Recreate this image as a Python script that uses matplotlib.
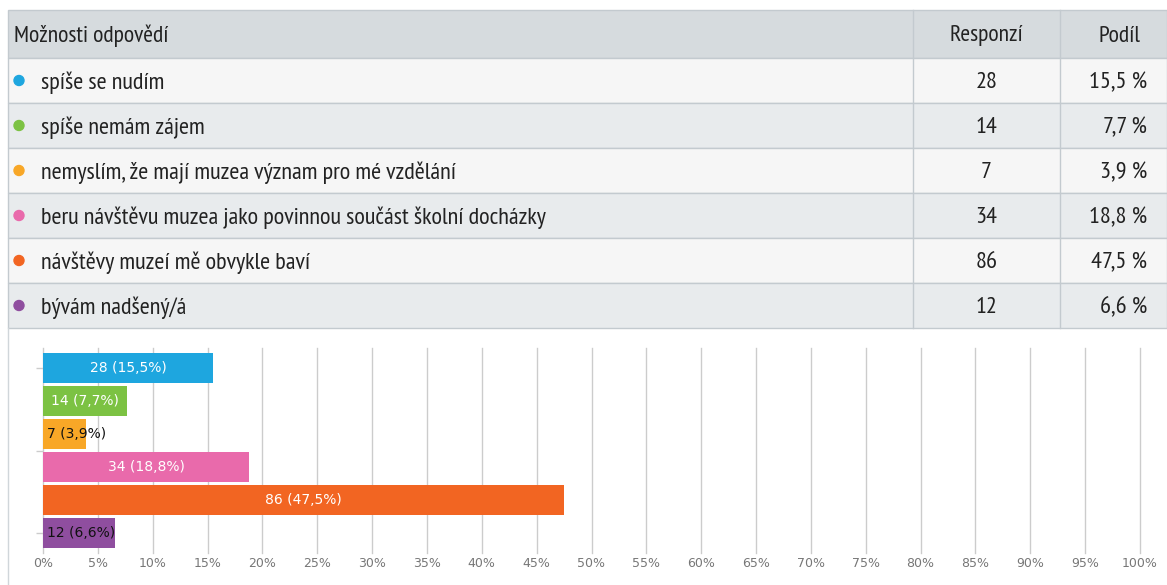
import matplotlib
matplotlib.use("Agg")
import matplotlib.pyplot as plt
from matplotlib.patches import Rectangle, Circle

# data
options = [
    "spíše se nudím",
    "spíše nemám zájem",
    "nemyslím, že mají muzea význam pro mé vzdělání",
    "beru návštěvu muzea jako povinnou součást školní docházky",
    "návštěvy muzeí mě obvykle baví",
    "bývám nadšený/á",
]
counts = [28, 14, 7, 34, 86, 12]
shares = [15.5, 7.7, 3.9, 18.8, 47.5, 6.6]
colors = ["#1ea6df", "#7cc243", "#f8a727", "#e96aab", "#f26522", "#8f4e9f"]
x_ticks = list(range(0, 101, 5))

W, H = 1167, 585
TABLE_FONT = ["PT Sans Narrow", "DejaVu Sans"]
FS = 17.5

fig = plt.figure(figsize=(W / 100, H / 100), dpi=100)
fig.patch.set_facecolor("white")

# table drawn in pixel coordinates
bg = fig.add_axes([0, 0, 1, 1])
bg.set_xlim(0, W)
bg.set_ylim(H, 0)
bg.axis("off")

border = "#c3cacf"
left, right = 8, W
col1, col2 = 913, 1060
top, head_h, row_h = 10, 48, 45
dy = 2  # nudge text down a little

bg.add_patch(Rectangle((left, top), right - left, head_h, facecolor="#d6dbde",
                       edgecolor=border, lw=1))
hy = top + head_h / 2 + dy
bg.text(14, hy, "Možnosti odpovědí", family=TABLE_FONT, fontsize=17,
        va="center", ha="left", color="#222222")
bg.text((col1 + col2) / 2, hy, "Responzí", family=TABLE_FONT, fontsize=17,
        va="center", ha="center", color="#222222")
bg.text(1120, hy, "Podíl", family=TABLE_FONT, fontsize=17,
        va="center", ha="center", color="#222222")

for i, (opt, c, s, col) in enumerate(zip(options, counts, shares, colors)):
    y0 = top + head_h + i * row_h
    face = "#f6f6f6" if i % 2 == 0 else "#e8ebed"
    bg.add_patch(Rectangle((left, y0), right - left, row_h, facecolor=face,
                           edgecolor=border, lw=1))
    bg.add_patch(Circle((19, y0 + row_h / 2), 5, color=col))
    yc = y0 + row_h / 2 + dy
    bg.text(41, yc, opt, family=TABLE_FONT, fontsize=FS, va="center", ha="left",
            color="#222222")
    bg.text((col1 + col2) / 2, yc, str(c), family=TABLE_FONT, fontsize=FS,
            va="center", ha="center", color="#222222")
    bg.text(1147, yc, f"{s:.1f} %".replace(".", ","), family=TABLE_FONT, fontsize=FS,
            va="center", ha="right", color="#222222")

table_bottom = top + head_h + len(options) * row_h
for x in (col1, col2):
    bg.plot([x, x], [top, table_bottom], color=border, lw=1)
bg.plot([left, left], [table_bottom, H], color="#d0d6da", lw=1)

# bar chart
ax_l, ax_r, ax_t, ax_b = 43, 1140, 348, 553
ax = fig.add_axes([ax_l / W, 1 - ax_b / H, (ax_r - ax_l) / W, (ax_b - ax_t) / H])
ax.patch.set_alpha(0)
ypos = list(range(len(options)))
ax.barh(ypos, shares, height=0.9, color=colors, zorder=3)
ax.set_xlim(0, 100)
ax.set_ylim(len(options) - 0.4, -0.6)
ax.set_xticks(x_ticks)
ax.set_xticklabels([f"{t}%" for t in x_ticks], fontsize=9, color="#777777")
ax.tick_params(axis="x", length=0, pad=3)
ax.set_yticks([0, 2.5, 5])
ax.set_yticklabels([])
ax.tick_params(axis="y", length=5, color="#cccccc", width=1)
ax.grid(axis="x", color="#cccccc", lw=1, zorder=0)
for gl in ax.get_xgridlines():
    gl.set_clip_on(False)
for sp in ax.spines.values():
    sp.set_visible(False)

for y, c, s in zip(ypos, counts, shares):
    label = f"{c} ({s:.1f}%)".replace(".", ",")
    if s >= 7:
        ax.text(s / 2, y, label, ha="center", va="center", color="white",
                fontsize=10, zorder=4)
    else:
        ax.text(0.35, y, label, ha="left", va="center", color="#111111",
                fontsize=10, zorder=4)

fig.savefig("out.png", dpi=100)
